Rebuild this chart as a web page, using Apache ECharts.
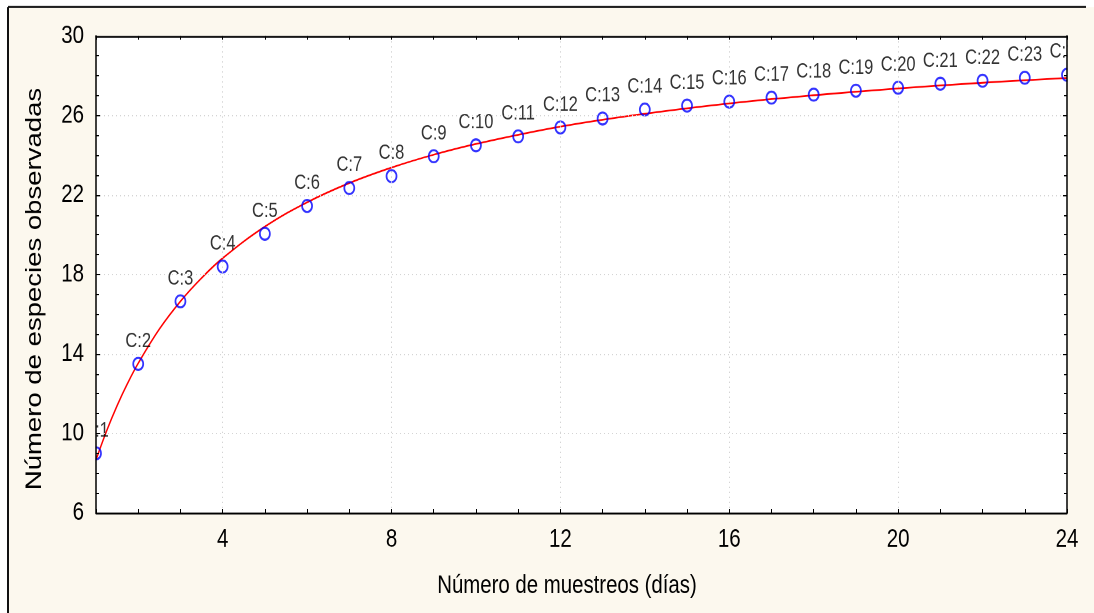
<!DOCTYPE html>
<html>
<head>
<meta charset="utf-8">
<script src="https://cdn.jsdelivr.net/npm/echarts@6/dist/echarts.min.js"></script>
<style>
html,body{margin:0;padding:0;background:#fff;overflow:hidden;}
#wrap{width:1094px;height:613px;overflow:hidden;background:#fff;}
#chart{width:1094px;height:490px;transform-origin:0 0;transform:scaleY(1.25102);}
</style>
</head>
<body>
<div id="wrap"><div id="chart"></div></div>
<script>
// Observed points (number of samplings vs observed species)
const sampleDays = [1,2,3,4,5,6,7,8,9,10,11,12,13,14,15,16,17,18,19,20,21,22,23,24];
const observedSpecies = [9.0,13.5,16.65,18.4,20.05,21.45,22.35,22.95,23.95,24.5,24.95,25.4,25.85,26.3,26.5,26.7,26.9,27.05,27.25,27.4,27.6,27.75,27.9,28.05];
const pointLabels = ['C:1','C:2','C:3','C:4','C:5','C:6','C:7','C:8','C:9','C:10','C:11','C:12','C:13','C:14','C:15','C:16','C:17','C:18','C:19','C:20','C:21','C:22','C:23','C:24'];
// Fitted accumulation curve
const curveX = [1,1.25,1.5,1.75,2,2.5,3,3.5,4,5,6,7,8,9,10,12,14,16,18,20,22,24];
const curveY = [8.67,10.12,11.40,12.53,13.53,15.25,16.65,17.82,18.82,20.41,21.63,22.60,23.38,24.03,24.57,25.44,26.09,26.61,27.02,27.36,27.65,27.89];
// Axis ticks
const xMin = 1, xMax = 24, xLabelStep = 4;
const yMin = 6, yMax = 30, yStep = 4;
const xGridValues = [4,8,12,16,20];
const xTitle = 'Número de muestreos (días)';
const yTitle = 'Número de especies observadas';

const BEIGE = '#fcf8ee';
const FONT = "'Liberation Sans', Arial, sans-serif";
const chart = echarts.init(document.getElementById('chart'), null, {renderer:'canvas', devicePixelRatio:2});

const W = 1094, H = 490;
const gridL = 96, gridR = 27, gridT = 28.8, gridB = 80;

function baseX(extra){
  return Object.assign({
    type:'value', min:xMin, max:xMax, interval:1, z:10,
    axisLine:{show:true, onZero:false, lineStyle:{color:'#000', width:1.4}},
    axisTick:{show:true, inside:true, length:3, lineStyle:{color:'#000', width:1}},
    splitLine:{show:false}
  }, extra);
}
function baseY(extra){
  return Object.assign({
    type:'value', min:yMin, max:yMax, interval:yStep, z:10,
    axisLine:{show:true, onZero:false, lineStyle:{color:'#000', width:1.5}},
    axisTick:{show:true, inside:true, length:4, lineStyle:{color:'#000', width:1}},
    minorTick:{show:true, splitNumber:4, length:3, lineStyle:{color:'#000', width:1}}
  }, extra);
}

const option = {
  backgroundColor:'#ffffff',
  animation:false,
  grid:{left:gridL, right:gridR, top:gridT, bottom:gridB, show:true, backgroundColor:'#ffffff', borderWidth:0, z:0},
  xAxis:[
    baseX({position:'bottom',
      axisLabel:{show:true, margin:11, color:'#000', fontFamily:FONT, fontSize:20.5,
        formatter:function(v){ return (v % xLabelStep === 0) ? String(v) : ''; }}}),
    baseX({position:'top', axisLabel:{show:false}})
  ],
  yAxis:[
    baseY({position:'left',
      axisLabel:{show:true, margin:12, color:'#000', fontFamily:FONT, fontSize:20.5},
      splitLine:{show:true, lineStyle:{color:'#d4d4d4', type:[1,3], width:1}}}),
    baseY({position:'right', axisLabel:{show:false}, splitLine:{show:false}})
  ],
  graphic:[
    {type:'rect', z:-10, shape:{x:8, y:5.6, width:W-8, height:H}, style:{fill:BEIGE}},
    {type:'rect', z:5, shape:{x:9, y:6.4, width:gridL-9-0.6, height:H}, style:{fill:BEIGE}},
    {type:'rect', z:5, shape:{x:9, y:6.4, width:W, height:gridT-6.4-0.6}, style:{fill:BEIGE}},
    {type:'rect', z:5, shape:{x:W-gridR+0.6, y:6.4, width:gridR, height:H}, style:{fill:BEIGE}},
    {type:'rect', z:5, shape:{x:9, y:H-gridB+0.6, width:W, height:gridB}, style:{fill:BEIGE}},
    {type:'line', z:20, shape:{x1:8, y1:5.6, x2:1086, y2:5.6}, style:{stroke:'#111', lineWidth:1.6}},
    {type:'line', z:20, shape:{x1:8, y1:5.6, x2:8, y2:H}, style:{stroke:'#111', lineWidth:2}},
    {type:'text', z:20, x:567, y:468.4,
      style:{text:xTitle, fill:'#000', font:"20.4px " + FONT, textAlign:'center', textVerticalAlign:'middle'}},
    {type:'text', z:20, x:35, y:231, rotation:Math.PI/2,
      style:{text:yTitle, fill:'#000', font:"22px " + FONT, textAlign:'center', textVerticalAlign:'middle'}}
  ],
  series:[
    {
      type:'line', name:'curve', z:1,
      data:curveX.map((x,i)=>[x, curveY[i]]),
      smooth:0.4, showSymbol:false, symbol:'none',
      lineStyle:{color:'#ff0000', width:1.4},
      markLine:{silent:true, symbol:'none', label:{show:false},
        lineStyle:{color:'#d4d4d4', type:[1,3], width:1},
        data:xGridValues.map(v=>({xAxis:v}))}
    },
    {
      type:'scatter', name:'obs', z:3,
      data:sampleDays.map((x,i)=>[x, observedSpecies[i]]),
      symbol:'circle', symbolSize:[10,9.6],
      itemStyle:{color:'rgba(255,255,255,0)', borderColor:'#0000ff', borderWidth:1.7},
      label:{show:true, position:'top', distance:4, color:'#000', fontFamily:FONT, fontSize:16.5,
        formatter:function(p){ return pointLabels[p.dataIndex]; }}
    }
  ]
};
chart.setOption(option);
</script>
</body>
</html>
